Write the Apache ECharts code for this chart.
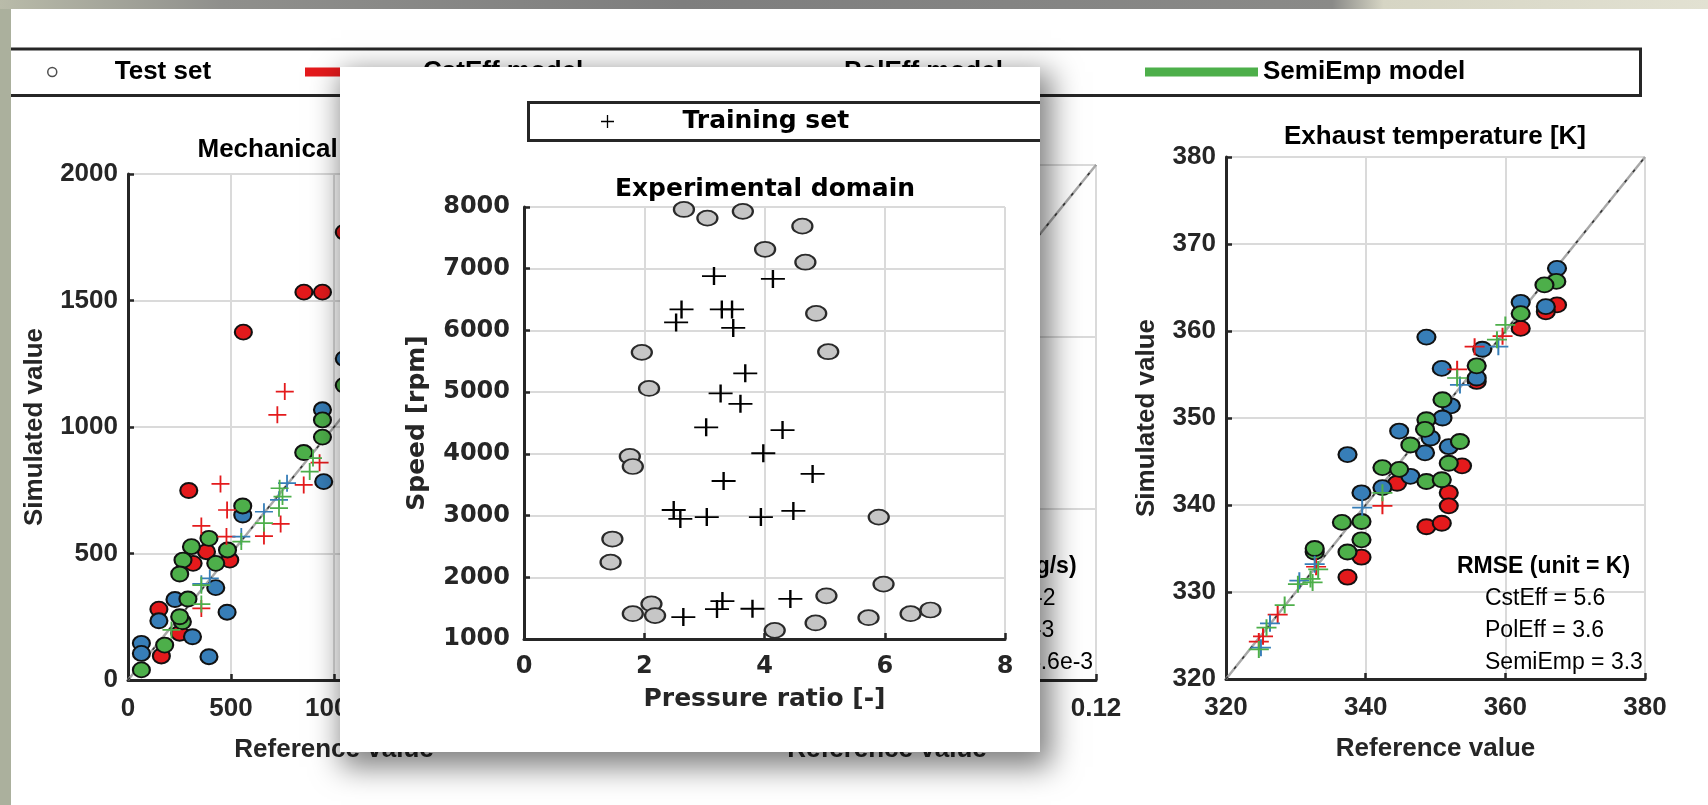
<!DOCTYPE html>
<html lang="en">
<head>
<meta charset="UTF-8">
<meta name="viewport" content="width=device-width, initial-scale=1">
<title>Model validation - experimental domain</title>
<script src="https://cdn.jsdelivr.net/npm/echarts@6.0.0/dist/echarts.min.js"></script>
<style>
    html, body {margin: 0; padding: 0; width: 1708px; height: 805px; overflow: hidden; background: #abb09d;}
    #topband {position: absolute; left: 0; top: 0; width: 1708px; height: 9px;
        background: linear-gradient(to right, #b9bba9 0%, #8f8f8c 13%, #7e7e7e 40%, #8a8a88 78%, #d6d5c4 81%, #e2e1d2 100%);}
    #paper {position: absolute; left: 11px; top: 9px; width: 1697px; height: 796px; background: #fff;}
    #main {position: absolute; left: 0; top: 0; width: 1708px; height: 805px;}
    #inset {position: absolute; left: 340px; top: 67px; width: 700px; height: 685px; background: #fff;
        box-shadow: 6px 10px 28px 5px rgba(0, 0, 0, 0.5);}
</style>
</head>
<body>
<div id="topband"></div>
<div id="paper"></div>
<div id="main"></div>
<div id="inset"></div>
<script>
    // values, [reference, simulated]
    // left panel: mechanical power
    var mechCstTest = [[854, 1533], [944, 1533], [560, 1375], [1050, 1770], [295, 749], [316, 461], [494, 474],
        [381, 507], [150, 280], [162, 95], [251, 185]];
    var mechPolTest = [[944, 1068], [950, 784], [557, 652], [426, 365], [481, 268], [150, 234], [313, 171],
        [393, 92], [65, 145], [65, 105], [228, 318], [1050, 1270]];
    var mechSemiTest = [[944, 1028], [944, 960], [853, 899], [557, 688], [393, 560], [308, 527], [483, 514],
        [267, 474], [426, 461], [251, 419], [291, 320], [264, 230], [251, 250], [178, 138], [65, 40], [1050, 1165]];
    var mechCstTrain = [[761, 1140], [725, 1048], [449, 775], [481, 672], [356, 609], [478, 567], [853, 771],
        [741, 617], [660, 569], [356, 283], [930, 859]];
    var mechPolTrain = [[772, 778], [733, 712], [660, 665], [550, 567], [397, 402], [356, 380]];
    var mechSemiTrain = [[736, 758], [750, 725], [733, 679], [660, 620], [550, 547], [898, 877], [882, 824],
        [356, 375], [356, 300], [211, 198]];

    // right panel: exhaust temperature
    var exhCstTest = [[367.4, 363.0], [365.8, 362.2], [362.2, 360.3], [355.9, 354.2], [344.5, 342.5], [353.8, 344.5],
        [351.9, 341.4], [351.9, 339.9], [348.7, 337.5], [350.9, 337.9], [339.4, 334.0], [337.4, 331.7]];
    var exhPolTest = [[367.4, 367.2], [362.2, 363.3], [365.8, 362.8], [348.7, 359.3], [350.9, 355.7], [355.9, 354.6],
        [356.7, 357.9], [352.2, 351.4], [351.0, 350.0], [344.8, 348.5], [349.3, 347.7], [351.9, 346.7],
        [337.4, 345.8], [348.5, 346.0], [346.4, 343.3], [339.4, 341.4], [342.4, 342.0]];
    var exhSemiTest = [[367.3, 365.7], [365.6, 365.3], [362.2, 362.0], [355.9, 356.0], [351.0, 352.1], [348.7, 349.8],
        [348.5, 348.7], [346.4, 346.9], [353.5, 347.3], [342.4, 344.3], [344.8, 344.1], [348.7, 342.7],
        [350.9, 342.9], [351.9, 344.8], [336.6, 338.0], [339.4, 338.1], [339.4, 336.0], [337.4, 334.6],
        [332.7, 334.6], [332.7, 335.0]];
    var exhCstTrain = [[353.1, 355.6], [359.6, 359.4], [355.6, 358.2], [342.4, 339.9], [332.9, 332.9],
        [327.4, 327.4], [325.3, 324.9], [324.7, 324.3]];
    var exhPolTrain = [[353.5, 353.8], [359.0, 358.2], [339.5, 339.7], [332.7, 333.2], [330.5, 331.3],
        [326.3, 326.4], [325.0, 323.6]];
    var exhSemiTrain = [[353.1, 354.6], [360.0, 360.7], [358.8, 359.0], [342.4, 341.4], [333.2, 332.6],
        [332.1, 331.5], [330.3, 330.9], [332.4, 331.1], [328.4, 328.5], [325.8, 325.9], [324.7, 323.4]];

    // inset: experimental domain, [pressure ratio, speed]
    var domainTest = [[2.66, 7960], [3.05, 7820], [3.64, 7930], [4.63, 7690], [4.01, 7315], [4.68, 7105],
        [4.86, 6275], [1.96, 5645], [5.06, 5655], [2.08, 5060], [1.76, 3960], [1.81, 3795], [1.47, 2620],
        [1.44, 2245], [5.90, 2975], [5.98, 1890], [5.03, 1700], [2.12, 1570], [1.81, 1410], [2.18, 1380],
        [4.17, 1140], [4.85, 1260], [5.73, 1345], [6.43, 1410], [6.76, 1470]];
    var domainTrain = [[3.16, 6880], [4.14, 6835], [2.62, 6340], [3.29, 6340], [3.46, 6340], [2.53, 6130],
        [3.48, 6040], [3.68, 5305], [3.27, 4980], [3.60, 4810], [3.03, 4430], [4.30, 4385], [3.98, 4010],
        [4.80, 3675], [3.32, 3560], [2.49, 3090], [2.60, 2945], [3.04, 2975], [3.94, 2975], [4.48, 3075],
        [4.43, 1650], [3.30, 1615], [3.21, 1485], [3.80, 1490], [2.65, 1355]];

    // RMSE boxes
    var rmseFlow = ['RMSE (unit = kg/s)', 'CstEff = 1.1e-2', 'PolEff = 5.3e-3', 'SemiEmp = 4.6e-3'];
    var rmseTemp = ['RMSE (unit = K)', 'CstEff = 5.6', 'PolEff = 3.6', 'SemiEmp = 3.3'];

    var INK = '#262626';
    var SANS = '"Liberation Sans", Arial, sans-serif';
    var WIDE = '"DejaVu Sans", sans-serif';
    var RED = '#e41a1c', BLUE = '#377eb8', GREEN = '#4daf4a';
    var PLUS = 'path://M45,0h10v100h-10z M0,45h100v10h-100z';

    function plain(v) {
        return String(Math.round(v * 1000) / 1000);
    }

    function axis(o) {
        return {
            type: 'value', gridIndex: o.grid || 0, min: o.min, max: o.max, interval: o.step,
            name: o.name, nameLocation: 'middle', nameGap: o.gap,
            nameTextStyle: {color: INK, fontFamily: o.font, fontSize: o.nameSize, fontWeight: 'bold'},
            axisLine: {show: true, onZero: false, lineStyle: {color: INK, width: 3}},
            axisTick: {show: true, inside: true, length: 6, lineStyle: {color: INK, width: 2.5}},
            axisLabel: {color: INK, fontFamily: o.font, fontSize: o.labelSize, fontWeight: 'bold', margin: o.margin,
                formatter: plain},
            splitLine: {show: true, lineStyle: {color: '#dadada', width: 2}}
        };
    }

    function dots(name, g, data, color, size) {
        return {
            name: name, type: 'scatter', xAxisIndex: g, yAxisIndex: g, data: data,
            symbol: 'circle', symbolSize: size, z: 3, emphasis: {disabled: true},
            itemStyle: {color: color, borderColor: '#111', borderWidth: 2, opacity: 1}
        };
    }

    function plus(name, g, data, color, size) {
        return {
            name: name, type: 'scatter', xAxisIndex: g, yAxisIndex: g, data: data,
            symbol: PLUS, symbolSize: size, z: 4, emphasis: {disabled: true},
            itemStyle: {color: color, opacity: 1}
        };
    }

    function diag(g, lo, hi) {
        return [{
            type: 'line', xAxisIndex: g, yAxisIndex: g, data: [[lo, lo], [hi, hi]], symbol: 'none', z: 2,
            lineStyle: {color: '#a8a8a8', width: 2.5}, emphasis: {disabled: true}
        }, {
            type: 'line', xAxisIndex: g, yAxisIndex: g, data: [[lo, lo], [hi, hi]], symbol: 'none', z: 2,
            lineStyle: {color: '#333', width: 1.5, type: [3, 10]}, emphasis: {disabled: true}
        }];
    }

    function txt(x, y, s, size, weight, align) {
        return {
            type: 'text', x: x, y: y, z: 10,
            style: {text: s, fill: '#000', fontFamily: SANS, fontSize: size, fontWeight: weight,
                textAlign: align || 'left', textVerticalAlign: 'middle', verticalAlign: 'middle'}
        };
    }

    function rmse(lines, x) {
        var ys = [567, 599, 631, 663];
        return lines.map(function (s, i) {
            return txt(i === 0 ? x - 28 : x, ys[i], s, 23, i === 0 ? 'bold' : 'normal');
        });
    }

    var legendText = {fontFamily: SANS, fontSize: 26, fontWeight: 'bold', color: '#000'};
    function lineLegend(name, left) {
        return {
            data: [{name: name, icon: 'rect'}], left: left, top: 59, padding: 0, selectedMode: false,
            itemWidth: 113, itemHeight: 9, itemStyle: {borderWidth: 0}, textStyle: legendText
        };
    }

    var mainChart = echarts.init(document.getElementById('main'));
    var cStyleMain = [17, 15], pStyleMain = [18, 17], cStyleRight = [18, 15], pStyleRight = [20, 17];

    mainChart.setOption({
        animation: false,
        grid: [
            {left: 128, top: 174, width: 412, height: 506, outerBoundsMode: 'none'},
            {left: 678, top: 165, width: 418, height: 515, outerBoundsMode: 'none'},
            {left: 1226, top: 157, width: 419, height: 522, outerBoundsMode: 'none'}
        ],
        xAxis: [
            axis({grid: 0, min: 0, max: 2000, step: 500, name: 'Reference value', gap: 57, font: SANS, nameSize: 26, labelSize: 26, margin: 16}),
            axis({grid: 1, min: 0, max: 0.12, step: 0.04, name: 'Reference value', gap: 57, font: SANS, nameSize: 26, labelSize: 26, margin: 16}),
            axis({grid: 2, min: 320, max: 380, step: 20, name: 'Reference value', gap: 57, font: SANS, nameSize: 26, labelSize: 26, margin: 16})
        ],
        yAxis: [
            axis({grid: 0, min: 0, max: 2000, step: 500, name: 'Simulated value', gap: 80, font: SANS, nameSize: 26, labelSize: 26, margin: 10}),
            axis({grid: 1, min: 0, max: 0.12, step: 0.04, name: 'Simulated value', gap: 80, font: SANS, nameSize: 26, labelSize: 26, margin: 10}),
            axis({grid: 2, min: 320, max: 380, step: 10, name: 'Simulated value', gap: 66, font: SANS, nameSize: 26, labelSize: 26, margin: 10})
        ],
        legend: [
            {
                data: [{name: 'Test set', icon: 'circle'}], left: 47, top: 59, padding: 0, selectedMode: false,
                itemWidth: 9, itemHeight: 9, itemStyle: {color: '#fff', borderColor: '#222', borderWidth: 1.5},
                textStyle: Object.assign({padding: [0, 0, 0, 53]}, legendText)
            },
            lineLegend('CstEff model', 305),
            lineLegend('PolEff model', 726),
            lineLegend('SemiEmp model', 1145)
        ],
        graphic: [
            {type: 'polyline', z: 10, shape: {points: [[11, 49], [1640.5, 49], [1640.5, 95.5], [11, 95.5]]},
                style: {fill: 'none', stroke: INK, lineWidth: 3}},
            txt(334, 150, 'Mechanical power [W]', 26, 'bold', 'center'),
            txt(887, 141, 'Mass flow rate [kg/s]', 26, 'bold', 'center'),
            txt(1435, 137, 'Exhaust temperature [K]', 26, 'bold', 'center')
        ].concat(rmse(rmseFlow, 902), rmse(rmseTemp, 1485)),
        series: [
            {name: 'Test set', type: 'scatter', data: [], symbol: 'circle',
                itemStyle: {color: '#fff', borderColor: '#222', borderWidth: 1.5}}
        ].concat(
            diag(0, 0, 2000), diag(1, 0, 0.12), diag(2, 320, 380),
            dots('CstEff model', 0, mechCstTest, RED, cStyleMain),
            dots('PolEff model', 0, mechPolTest, BLUE, cStyleMain),
            dots('SemiEmp model', 0, mechSemiTest, GREEN, cStyleMain),
            plus('CstEff training', 0, mechCstTrain, RED, pStyleMain),
            plus('PolEff training', 0, mechPolTrain, BLUE, pStyleMain),
            plus('SemiEmp training', 0, mechSemiTrain, GREEN, pStyleMain),
            dots('CstEff model', 2, exhCstTest, RED, cStyleRight),
            dots('PolEff model', 2, exhPolTest, BLUE, cStyleRight),
            dots('SemiEmp model', 2, exhSemiTest, GREEN, cStyleRight),
            plus('CstEff training', 2, exhCstTrain, RED, pStyleRight),
            plus('PolEff training', 2, exhPolTrain, BLUE, pStyleRight),
            plus('SemiEmp training', 2, exhSemiTrain, GREEN, pStyleRight)
        )
    });

    // inset figure: experimental domain
    var insetChart = echarts.init(document.getElementById('inset'));
    insetChart.setOption({
        animation: false,
        grid: {left: 184, top: 140, width: 481, height: 432, outerBoundsMode: 'none'},
        xAxis: axis({min: 0, max: 8, step: 2, name: 'Pressure ratio [-]', gap: 48, font: WIDE, nameSize: 25, labelSize: 24, margin: 16}),
        yAxis: axis({min: 1000, max: 8000, step: 1000, name: 'Speed [rpm]', gap: 94, font: WIDE, nameSize: 25, labelSize: 24, margin: 14}),
        legend: {
            data: [{name: 'Training set', icon: PLUS}], left: 261, top: 42, padding: 0, selectedMode: false,
            itemWidth: 16, itemHeight: 13, itemStyle: {color: '#000'},
            textStyle: {fontFamily: WIDE, fontSize: 25, fontWeight: 'bold', color: '#000', padding: [0, 0, 0, 62]}
        },
        graphic: [
            {type: 'polyline', shape: {points: [[705, 35.5], [188.5, 35.5], [188.5, 73.5], [705, 73.5]]},
                style: {fill: 'none', stroke: INK, lineWidth: 3}},
            {type: 'text', x: 425, y: 122, style: {text: 'Experimental domain', fill: '#000', fontFamily: WIDE,
                fontSize: 25, fontWeight: 'bold', textAlign: 'center', textVerticalAlign: 'middle', verticalAlign: 'middle'}}
        ],
        series: [
            {name: 'Test set', type: 'scatter', data: domainTest, symbol: 'circle', symbolSize: [20, 15],
                emphasis: {disabled: true}, itemStyle: {color: '#c6c6c6', borderColor: '#2a2a2a', borderWidth: 2, opacity: 1}},
            {name: 'Training set', type: 'scatter', data: domainTrain, symbol: PLUS, symbolSize: [24, 18],
                emphasis: {disabled: true}, itemStyle: {color: '#000', opacity: 1}}
        ]
    });
</script>
</body>
</html>
